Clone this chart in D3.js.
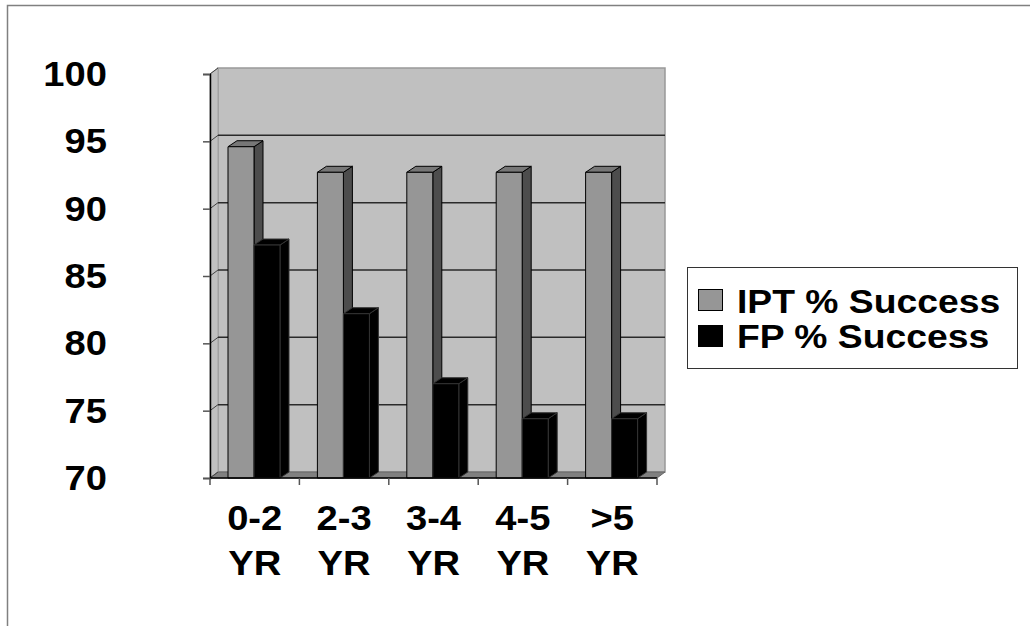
<!DOCTYPE html>
<html>
<head>
<meta charset="utf-8">
<script src="https://cdn.jsdelivr.net/npm/d3@7"></script>
<style>
  body { margin: 0; background: #fff; }
  svg { display: block; font-family: 'Liberation Sans', Arial, sans-serif; font-weight: bold; }
</style>
</head>
<body>
<svg width="1030" height="626"></svg>
<script>
const categories = ['0-2 YR', '2-3 YR', '3-4 YR', '4-5 YR', '>5 YR']
const seriesNames = ['IPT % Success', 'FP % Success']
const iptValues = [94.6, 92.7, 92.7, 92.7, 92.7]
const fpValues = [87.3, 82.2, 77.0, 74.4, 74.4]
const yTicks = [70, 75, 80, 85, 90, 95, 100]

const svg = d3.select('svg')

// outer chart frame
svg.append('rect').attr('x', 7.5).attr('y', 5.5).attr('width', 1040).attr('height', 640)
  .attr('fill', 'none').attr('stroke', '#808080').attr('stroke-width', 1.5)

const x = d3.scaleBand().domain(categories).range([210, 657])
const y = d3.scaleLinear().domain([70, 100]).range([478, 74])
const inner = d3.scaleBand().domain(seriesNames).range([18, 70])

const dx = 8, dy = -6   // wall depth
const bx = 9, by = -6   // bar depth

const g = svg.append('g')

// back wall
g.append('rect').attr('x', 210 + dx).attr('y', y(100) + dy)
  .attr('width', 657 - 210).attr('height', y(70) - y(100))
  .attr('fill', '#c0c0c0').attr('stroke', '#999').attr('stroke-width', 1.5)

// side wall
g.append('polygon')
  .attr('points', [[210, y(100)], [210 + dx, y(100) + dy], [210 + dx, y(70) + dy], [210, y(70)]].join(' '))
  .attr('fill', '#c0c0c0').attr('stroke', '#a0a0a0')

// floor
g.append('polygon')
  .attr('points', [[210, y(70)], [210 + dx, y(70) + dy], [657 + dx, y(70) + dy], [657, y(70)]].join(' '))
  .attr('fill', '#808080').attr('stroke', '#666')

// gridlines on back wall and side wall
yTicks.filter(t => t > 70 && t < 100).forEach(t => {
  g.append('line').attr('x1', 210 + dx).attr('x2', 657 + dx)
    .attr('y1', y(t) + dy).attr('y2', y(t) + dy)
    .attr('stroke', '#2a2a2a').attr('stroke-width', 1.5)
})
yTicks.forEach(t => {
  g.append('line').attr('x1', 210).attr('x2', 210 + dx)
    .attr('y1', y(t)).attr('y2', y(t) + dy)
    .attr('stroke', '#444').attr('stroke-width', 1)
})

// bars
const faces = [
  { front: '#969696', side: '#4d4d4d', top: '#777777', line: '#000' },
  { front: '#000000', side: '#000000', top: '#000000', line: '#333' }
]
const bars = []
categories.forEach((c, i) => {
  bars.push({ c, s: 0, v: iptValues[i] })
  bars.push({ c, s: 1, v: fpValues[i] })
})

bars.forEach(d => {
  const x0 = x(d.c) + inner(seriesNames[d.s])
  const x1 = x0 + inner.bandwidth()
  const y0 = y(d.v)
  const y1 = y(70)
  const f = faces[d.s]
  const bg = g.append('g').attr('stroke', f.line).attr('stroke-width', 1).attr('stroke-linejoin', 'round')
  bg.append('polygon')
    .attr('points', [[x1, y0], [x1 + bx, y0 + by], [x1 + bx, y1 + by], [x1, y1]].join(' '))
    .attr('fill', f.side)
  bg.append('polygon')
    .attr('points', [[x0, y0], [x0 + bx, y0 + by], [x1 + bx, y0 + by], [x1, y0]].join(' '))
    .attr('fill', f.top)
  bg.append('rect').attr('x', x0).attr('y', y0).attr('width', x1 - x0).attr('height', y1 - y0)
    .attr('fill', f.front)
})

// y axis
const yAxis = g.append('g').attr('transform', 'translate(210,0)')
  .call(d3.axisLeft(y).tickValues(yTicks).tickSize(7).tickFormat(''))
yAxis.select('.domain').attr('stroke', '#000').attr('stroke-width', 1.5)
yAxis.selectAll('.tick line').attr('stroke', '#555').attr('stroke-width', 1.5)

// x axis
const xAxis = g.append('g').attr('transform', `translate(0,${y(70)})`)
xAxis.append('line').attr('x1', 210).attr('x2', 657).attr('stroke', '#000').attr('stroke-width', 1.5)
xAxis.selectAll('line.tk').data(categories.map(c => x(c)).concat([657]))
  .enter().append('line').attr('class', 'tk')
  .attr('x1', d => d).attr('x2', d => d).attr('y1', 0).attr('y2', 7)
  .attr('stroke', '#555').attr('stroke-width', 1.5)

// y tick labels
svg.append('g').selectAll('text').data(yTicks).enter().append('text')
  .attr('transform', d => `translate(107,${y(d) + 12}) scale(1.09,1)`)
  .attr('text-anchor', 'end').attr('font-size', 35).attr('fill', '#000')
  .text(d => d)

// category labels (two lines)
const cl = svg.append('g').selectAll('g').data(categories).enter().append('g')
cl.each(function (c) {
  const parts = c.split(' ')
  parts.forEach((p, k) => {
    d3.select(this).append('text')
      .attr('transform', `translate(${x(c) + x.bandwidth() / 2},${530 + k * 45}) scale(1.09,1)`)
      .attr('text-anchor', 'middle').attr('font-size', 35).attr('fill', '#000')
      .text(p)
  })
})

// legend
const lg = svg.append('g')
lg.append('rect').attr('x', 687.5).attr('y', 267.5).attr('width', 330).attr('height', 101)
  .attr('fill', '#fff').attr('stroke', '#333').attr('stroke-width', 1)
seriesNames.forEach((s, i) => {
  lg.append('rect').attr('x', 698.5).attr('y', 289.5 + i * 36).attr('width', 24).attr('height', 21)
    .attr('fill', faces[i].front).attr('stroke', '#000')
  lg.append('text')
    .attr('transform', `translate(737,${313 + i * 35}) scale(1.13,1)`)
    .attr('font-size', 33).attr('fill', '#000')
    .text(s)
})
</script>
</body>
</html>
